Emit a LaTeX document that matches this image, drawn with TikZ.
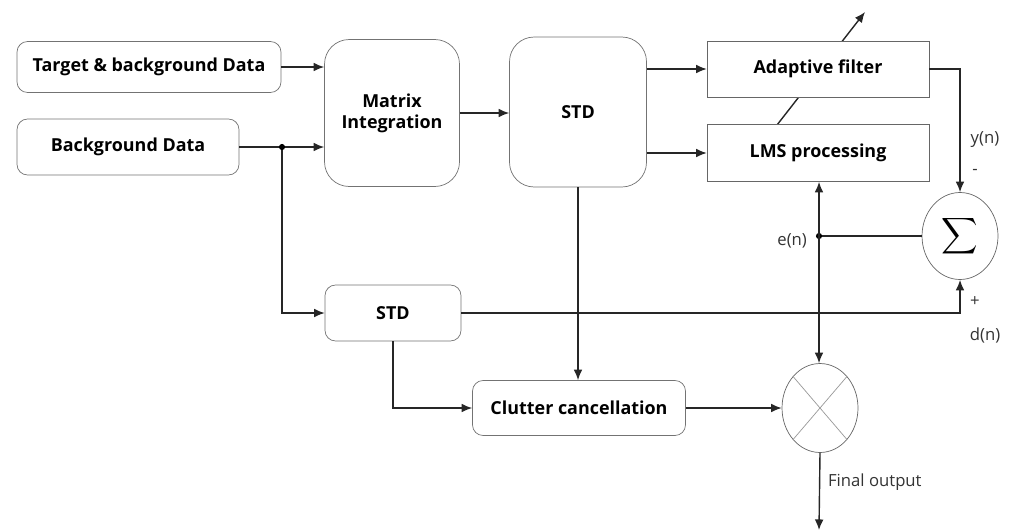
\documentclass[tikz,border=0pt]{standalone}
\usepackage{fontspec}
\setmainfont{Open Sans}
\usepackage{amsmath}
\usetikzlibrary{shapes.geometric,backgrounds,arrows.meta}

\begin{document}
\begin{tikzpicture}[x=0.02cm,y=-0.02cm,
    >={Latex[length=6pt,width=5pt]},
    block/.style={draw=black!55,fill=white,rounded corners=6pt,font=\fontsize{10.2}{12}\selectfont\bfseries,align=center,inner sep=0pt},
    bigblock/.style={block,rounded corners=14pt},
    sharpblock/.style={draw=black!60,fill=white,font=\fontsize{10.2}{12}\selectfont\bfseries,inner sep=0pt},
    junction/.style={ellipse,draw=black!60,fill=white,inner sep=0pt},
    lbl/.style={font=\fontsize{9.5}{11}\selectfont,text=black!80,inner sep=1pt},
    wire/.style={thick,black!85,->},
    dot/.style={circle,fill=black,inner sep=0pt,minimum size=3.5pt}]
  \useasboundingbox (0,0) rectangle (1010,531);
  % input blocks
  \node[block,minimum width=5.28cm,minimum height=1.02cm] (tbd) at (149,67) {Target \& background Data};
  \node[block,minimum width=4.44cm,minimum height=1.12cm] (bgd) at (128,147) {Background Data};
  \node[bigblock,minimum width=2.7cm,minimum height=2.94cm] (mat) at (392,113) {Matrix\\Integration};
  \node[bigblock,minimum width=2.74cm,minimum height=3.0cm] (stdA) at (578,112) {STD};
  \node[sharpblock,minimum width=4.44cm,minimum height=1.12cm] (adf) at (818,69) {Adaptive filter};
  \node[sharpblock,minimum width=4.44cm,minimum height=1.14cm] (lms) at (818,153) {LMS processing};
  \node[block,minimum width=2.72cm,minimum height=1.12cm] (stdB) at (393,313) {STD};
  \node[block,minimum width=4.26cm,minimum height=1.1cm] (clt) at (579,408) {Clutter cancellation};
  \node[junction,minimum width=1.52cm,minimum height=1.74cm] (sum) at (960,236) {\Large$\displaystyle\sum$};
  \node[junction,minimum width=1.52cm,minimum height=1.78cm] (mul) at (820,408) {};
  \draw[black!40] (mul.north east) -- (mul.south west);
  \draw[black!40] (mul.north west) -- (mul.south east);
  % points
  \node[dot] (jbg) at (282,147) {};
  \node[dot] (jen) at (819,236) {};
  \coordinate (tipA) at (865,12);
  \coordinate (tailA) at (777,125);
  \coordinate (out) at (819,530);
  % adaptation arrow behind the filter
  \begin{scope}[on background layer]
    \draw[wire] (tailA) -- (tipA);
  \end{scope}
  % connectors
  \draw[wire] (tbd.east) -- (tbd.east -| mat.west);
  \draw[thick,black!85] (bgd.east) -- (jbg);
  \draw[wire] (jbg) -- (jbg -| mat.west);
  \draw[wire] (jbg) |- (stdB.west);
  \draw[wire] (mat.east) -- (mat.east -| stdA.west);
  \draw[wire] (stdA.east |- adf.west) -- (adf.west);
  \draw[wire] (stdA.east |- lms.west) -- (lms.west);
  \draw[wire] (adf.east) -| (sum.north);
  \draw[wire] (stdB.east) -| (sum.south);
  \draw[thick,black!85] (jen) -- (sum.west);
  \draw[wire,<->] (jen |- lms.south) -- (jen |- mul.north);
  \draw[wire] (stdA.south) -- (stdA.south |- clt.north);
  \draw[wire] (stdB.south) |- (clt.west);
  \draw[wire] (clt.east) -- (mul.west);
  \draw[wire] (mul.south) -- (out);
  % signal labels
  \node[lbl] (yn) at (985,140) {y(n)};
  \node[lbl] (minus) at (975,172) {-};
  \node[lbl] (plus) at (975,302) {+};
  \node[lbl] (dn) at (985,335) {d(n)};
  \node[lbl,anchor=east] (en) at (809,241) {e(n)};
  \node[lbl,anchor=west] (fo) at (826,482) {Final output};
\end{tikzpicture}
\end{document}
